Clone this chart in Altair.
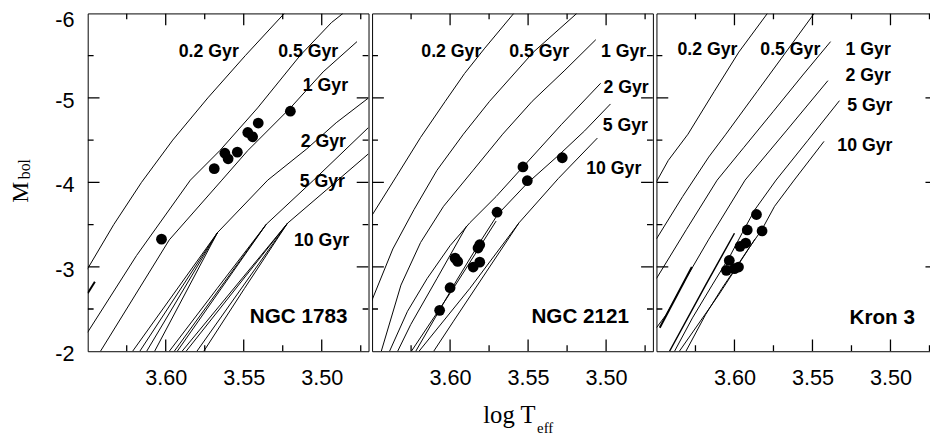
import altair as alt
import pandas as pd

# ---------------- axes / layout values ----------------
X_DOMAIN = [3.47, 3.65]
Y_DOMAIN = [-6.0, -2.0]
X_MAJOR_TICKS = [3.5, 3.55, 3.6]
X_MINOR_TICKS = [3.475, 3.525, 3.575, 3.625]
Y_MAJOR_TICKS = [-6.0, -5.0, -4.0, -3.0, -2.0]
Y_MINOR_TICKS = [-5.5, -4.5, -3.5, -2.5]
CLUSTERS = ["NGC 1783", "NGC 2121", "Kron 3"]
AGE_LABELS = ["0.2 Gyr", "0.5 Gyr", "1 Gyr", "2 Gyr", "5 Gyr", "10 Gyr"]

# ---------------- NGC 1783 isochrones (log Teff, Mbol) ----------------
P1_02_T = [3.524, 3.549, 3.573, 3.5955, 3.6155, 3.6333, 3.6493, 3.652]
P1_02_M = [-6.0, -5.5, -5.0, -4.5, -4.0, -3.5, -3.0, -2.93]
P1_05_T = [3.4864, 3.4938, 3.5138, 3.5411, 3.5653, 3.5842, 3.6187, 3.6502]
P1_05_M = [-6.0, -5.891, -5.503, -4.881, -4.376, -4.026, -3.133, -2.22]
P1_1_T = [3.4774, 3.4991, 3.5201, 3.5474, 3.5640, 3.5977, 3.6418]
P1_1_M = [-5.666, -5.308, -4.881, -4.376, -4.026, -3.319, -2.0]
P1_2_T = [3.4701, 3.4907, 3.5096, 3.5346, 3.5668, 3.6212]
P1_2_M = [-4.998, -4.706, -4.396, -4.026, -3.405, -2.0]
P1_2A_T = [3.5668, 3.6166]
P1_2A_M = [-3.405, -2.0]
P1_2B_T = [3.5668, 3.6122]
P1_2B_M = [-3.405, -2.0]
P1_2C_T = [3.5668, 3.6071]
P1_2C_M = [-3.405, -2.0]
P1_5_T = [3.4701, 3.5052, 3.5356, 3.5670, 3.5977]
P1_5_M = [-4.648, -4.026, -3.502, -2.744, -2.0]
P1_5A_T = [3.5356, 3.5945]
P1_5A_M = [-3.502, -2.0]
P1_5B_T = [3.5356, 3.5926]
P1_5B_M = [-3.502, -2.0]
P1_10_T = [3.4701, 3.4970, 3.5220, 3.5495, 3.5756]
P1_10_M = [-4.337, -3.910, -3.514, -2.744, -2.0]
P1_10A_T = [3.5220, 3.5895]
P1_10A_M = [-3.514, -2.0]
P1_10B_T = [3.5220, 3.5869]
P1_10B_M = [-3.514, -2.0]
P1_10C_T = [3.5220, 3.5800]
P1_10C_M = [-3.514, -2.0]
P1_STUB_T = [3.6500, 3.6454]
P1_STUB_M = [-2.686, -2.823]

# ---------------- NGC 2121 isochrones ----------------
P2_02_T = [3.5592, 3.5781, 3.5907, 3.6031, 3.6189, 3.6346, 3.6504]
P2_02_M = [-6.0, -5.581, -5.289, -4.959, -4.532, -4.065, -3.599]
P2_05_T = [3.5188, 3.5466, 3.5747, 3.5915, 3.6084, 3.6231, 3.6367, 3.6504]
P2_05_M = [-6.0, -5.542, -4.959, -4.570, -4.143, -3.677, -3.211, -2.589]
P2_1_T = [3.5066, 3.5264, 3.5474, 3.5663, 3.5852, 3.6042, 3.6189, 3.6315, 3.6441]
P2_1_M = [-5.689, -5.328, -4.959, -4.570, -4.143, -3.716, -3.288, -2.783, -2.0]
P2_2_T = [3.5035, 3.5285, 3.5533, 3.5705, 3.5873, 3.6000, 3.6147, 3.6273, 3.6388]
P2_2_M = [-5.173, -4.687, -4.182, -3.832, -3.522, -3.250, -2.861, -2.473, -2.0]
P2_2A_T = [3.5894, 3.6084, 3.6252, 3.6336]
P2_2A_M = [-3.483, -2.861, -2.317, -2.0]
P2_5_T = [3.4972, 3.5138, 3.5306, 3.5506, 3.5695, 3.5810, 3.5957, 3.6084, 3.6220]
P2_5_M = [-4.928, -4.609, -4.318, -3.988, -3.619, -3.288, -2.842, -2.434, -2.0]
P2_5A_T = [3.5705, 3.5979, 3.6248]
P2_5A_M = [-3.541, -2.745, -2.0]
P2_10_T = [3.5056, 3.5306, 3.5558, 3.5768, 3.5978, 3.6105]
P2_10_M = [-4.524, -4.046, -3.521, -2.939, -2.356, -2.0]
P2_10A_T = [3.5558, 3.5873, 3.6199]
P2_10A_M = [-3.521, -2.745, -2.0]

# ---------------- Kron 3 isochrones ----------------
P3_02_T = [3.5789, 3.5972, 3.6130, 3.6298, 3.6424, 3.6500]
P3_02_M = [-6.0, -5.542, -5.075, -4.570, -4.260, -4.007]
P3_05_T = [3.5489, 3.5670, 3.5855, 3.6055, 3.6165, 3.6332, 3.6500]
P3_05_M = [-6.0, -5.542, -5.075, -4.570, -4.299, -3.832, -3.33]
P3_1_T = [3.5384, 3.5562, 3.5750, 3.5939, 3.6111, 3.6307, 3.6500]
P3_1_M = [-5.666, -5.270, -4.842, -4.415, -4.026, -3.444, -2.861]
P3_2_T = [3.5401, 3.5668, 3.5932, 3.6164, 3.6311, 3.6437, 3.6500]
P3_2_M = [-5.204, -4.609, -4.026, -3.327, -2.861, -2.434, -2.278]
P3_2A_T = [3.6273, 3.6479]
P3_2A_M = [-2.997, -2.278]
P3_5_T = [3.5327, 3.5531, 3.5733, 3.5869, 3.5949, 3.6027, 3.6143, 3.6269, 3.6384]
P3_5_M = [-4.967, -4.493, -4.027, -3.677, -3.405, -3.133, -2.783, -2.395, -2.0]
P3_5A_T = [3.6000, 3.6185, 3.6416]
P3_5A_M = [-3.397, -2.783, -2.0]
P3_10_T = [3.5426, 3.5617, 3.5743, 3.5823, 3.5911, 3.5995, 3.6080, 3.6185, 3.6311]
P3_10_M = [-4.485, -4.027, -3.716, -3.444, -3.211, -2.978, -2.745, -2.434, -2.0]
P3_10A_T = [3.5869, 3.6101, 3.6353]
P3_10A_M = [-3.327, -2.667, -2.0]

# ---------------- observed stars ----------------
P1_DOT_T = [3.5201, 3.5407, 3.5474, 3.5443, 3.5541, 3.5621, 3.5600, 3.5689, 3.6027]
P1_DOT_M = [-4.842, -4.702, -4.590, -4.539, -4.357, -4.345, -4.279, -4.162, -3.327]
P2_DOT_T = [3.5281, 3.5533, 3.5505, 3.5699, 3.5810, 3.5821, 3.5968, 3.5951, 3.5852, 3.5810, 3.6000, 3.6067]
P2_DOT_M = [-4.291, -4.182, -4.019, -3.646, -3.261, -3.222, -3.102, -3.063, -2.997, -3.055, -2.752, -2.484]
P3_DOT_T = [3.5859, 3.5918, 3.5823, 3.5928, 3.5964, 3.6033, 3.6052, 3.5974, 3.6000]
P3_DOT_M = [-3.619, -3.436, -3.424, -3.281, -3.242, -3.075, -2.958, -2.997, -2.978]

# ---------------- age label anchors ----------------
P1_LAB_T = [3.5724, 3.5087, 3.4976, 3.4990, 3.4996, 3.5001]
P1_LAB_M = [-5.484, -5.484, -5.084, -4.415, -3.949, -3.249]
P2_LAB_T = [3.5992, 3.5429, 3.4888, 3.4872, 3.4877, 3.4951]
P2_LAB_M = [-5.484, -5.484, -5.484, -5.056, -4.610, -4.097]
P3_LAB_T = [3.6173, 3.5642, 3.5143, 3.5143, 3.5132, 3.5164]
P3_LAB_M = [-5.503, -5.503, -5.511, -5.200, -4.843, -4.368]
NAME_T = [3.5148, 3.5166, 3.5053]
NAME_M = [-2.337, -2.337, -2.325]

PANEL_CURVES = [
    [(P1_02_T, P1_02_M, 1.0), (P1_05_T, P1_05_M, 1.0), (P1_1_T, P1_1_M, 1.0),
     (P1_2_T, P1_2_M, 1.0), (P1_2A_T, P1_2A_M, 1.0), (P1_2B_T, P1_2B_M, 1.0), (P1_2C_T, P1_2C_M, 1.0),
     (P1_5_T, P1_5_M, 1.0), (P1_5A_T, P1_5A_M, 1.0), (P1_5B_T, P1_5B_M, 1.0),
     (P1_10_T, P1_10_M, 1.0), (P1_10A_T, P1_10A_M, 1.0), (P1_10B_T, P1_10B_M, 1.0), (P1_10C_T, P1_10C_M, 1.0),
     (P1_STUB_T, P1_STUB_M, 2.0)],
    [(P2_02_T, P2_02_M, 1.0), (P2_05_T, P2_05_M, 1.0), (P2_1_T, P2_1_M, 1.0),
     (P2_2_T, P2_2_M, 1.0), (P2_2A_T, P2_2A_M, 1.0),
     (P2_5_T, P2_5_M, 1.0), (P2_5A_T, P2_5A_M, 1.0),
     (P2_10_T, P2_10_M, 1.0), (P2_10A_T, P2_10A_M, 1.0)],
    [(P3_02_T, P3_02_M, 1.0), (P3_05_T, P3_05_M, 1.0), (P3_1_T, P3_1_M, 1.0),
     (P3_2_T, P3_2_M, 1.0), (P3_2A_T, P3_2A_M, 2.0),
     (P3_5_T, P3_5_M, 1.0), (P3_5A_T, P3_5A_M, 1.5),
     (P3_10_T, P3_10_M, 1.0), (P3_10A_T, P3_10A_M, 1.0)],
]
PANEL_DOTS = [(P1_DOT_T, P1_DOT_M), (P2_DOT_T, P2_DOT_M), (P3_DOT_T, P3_DOT_M)]
PANEL_LABELS = [(P1_LAB_T, P1_LAB_M), (P2_LAB_T, P2_LAB_M), (P3_LAB_T, P3_LAB_M)]

# ---------------- styling ----------------
W, H = 285.4, 343.3
SANS = "Liberation Sans"
SERIF = "Liberation Serif"
MAJOR_PX, MINOR_PX = 12.0, 6.0
TICK_WIDTH = 1.3

xs = alt.Scale(domain=X_DOMAIN, reverse=True, nice=False, zero=False)
ys = alt.Scale(domain=Y_DOMAIN, reverse=True, nice=False, zero=False)


def tick_segments():
    """Inward frame ticks at the tick values; lengths are given in pixels and converted."""
    x_per_px = (X_DOMAIN[1] - X_DOMAIN[0]) / W
    y_per_px = (Y_DOMAIN[1] - Y_DOMAIN[0]) / H
    x_lo, x_hi = X_DOMAIN
    y_top, y_bot = Y_DOMAIN
    segs = []
    for vals, px in ((X_MAJOR_TICKS, MAJOR_PX), (X_MINOR_TICKS, MINOR_PX)):
        d = px * y_per_px
        for v in vals:
            segs.append(([v, v], [y_bot, y_bot - d], TICK_WIDTH))
            segs.append(([v, v], [y_top, y_top + d], TICK_WIDTH))
    inner_major = [v for v in Y_MAJOR_TICKS if y_top < v < y_bot]
    for vals, px in ((inner_major, MAJOR_PX), (Y_MINOR_TICKS, MINOR_PX)):
        d = px * x_per_px
        for v in vals:
            segs.append(([x_hi, x_hi - d], [v, v], TICK_WIDTH))
            segs.append(([x_lo, x_lo + d], [v, v], TICK_WIDTH))
    return segs


def x_axis():
    return alt.Axis(orient="bottom", values=X_MAJOR_TICKS, ticks=False, tickSize=0, domain=False, grid=False,
                    title=None, format=".2f", labelFont=SANS, labelFontSize=22, labelColor="black",
                    labelPadding=17, labelOverlap=False, labelFlush=False)


def y_axis(labels):
    if not labels:
        return None
    return alt.Axis(orient="left", values=Y_MAJOR_TICKS, ticks=False, tickSize=0, domain=False, grid=False,
                    title=None, labelExpr="toString(datum.value)", labelFont=SANS, labelFontSize=22,
                    labelColor="black", labelPadding=14, labelOverlap=False,
                    labelOffset={"condition": {"test": "datum.value == -6", "value": 6}, "value": 2.5})


def curves_frame(curves):
    rows = []
    for k, (ts, ms, w) in enumerate(curves):
        for j, (t, m) in enumerate(zip(ts, ms)):
            rows.append({"seg": k, "ord": j, "T": t, "M": m, "w": w})
    return pd.DataFrame(rows)


def text_at(s, x, y, size, angle=0, align="center"):
    return alt.Chart(pd.DataFrame({"s": [s]})).mark_text(
        font=SERIF, fontSize=size, angle=angle, align=align, baseline="alphabetic", color="black"
    ).encode(text="s:N", x=alt.value(x), y=alt.value(y))


def make_panel(i):
    segs = PANEL_CURVES[i] + tick_segments()
    lines = alt.Chart(curves_frame(segs)).mark_line(color="black", clip=True, strokeCap="butt").encode(
        x=alt.X("T:Q", scale=xs, axis=x_axis()),
        y=alt.Y("M:Q", scale=ys, axis=y_axis(i == 0)),
        detail="seg:N",
        order="ord:Q",
        strokeWidth=alt.StrokeWidth("w:Q", scale=None),
    )
    lt, lm = PANEL_LABELS[i]
    ages = alt.Chart(pd.DataFrame({"T": lt, "M": lm, "txt": AGE_LABELS})).mark_text(
        font=SANS, fontWeight="bold", fontSize=18, color="black", baseline="alphabetic", align="center"
    ).encode(
        x=alt.X("T:Q", scale=xs, axis=None),
        y=alt.Y("M:Q", scale=ys, axis=None),
        text="txt:N",
    )
    name = alt.Chart(pd.DataFrame({"T": [NAME_T[i]], "M": [NAME_M[i]], "txt": [CLUSTERS[i]]})).mark_text(
        font=SANS, fontWeight="bold", fontSize=21, color="black", baseline="alphabetic", align="center"
    ).encode(
        x=alt.X("T:Q", scale=xs, axis=None),
        y=alt.Y("M:Q", scale=ys, axis=None),
        text="txt:N",
    )
    dt, dm = PANEL_DOTS[i]
    dots = alt.Chart(pd.DataFrame({"T": dt, "M": dm})).mark_circle(size=120, color="black", opacity=1).encode(
        x=alt.X("T:Q", scale=xs, axis=None),
        y=alt.Y("M:Q", scale=ys, axis=None),
    )
    layers = [lines, ages, name, dots]
    if i == 0:
        layers += [text_at("M", -60.6, 181.8, 24, angle=270), text_at("bol", -59.0, 158.3, 16, angle=270)]
    if i == 1:
        layers += [text_at("log T", 166.0, 416.0, 25, align="right"), text_at("eff", 167.7, 426.5, 15, align="left")]
    return alt.layer(*layers).resolve_axis(x="independent", y="independent").properties(width=W, height=H)


chart = alt.hconcat(*[make_panel(i) for i in range(3)], spacing=2).configure_view(
    stroke="black", strokeWidth=1
).properties(
    padding={"left": 0, "top": -4, "right": -8, "bottom": 0},
    background="white",
)

chart.save("out.html", embed_options={"renderer": "svg", "actions": False})
